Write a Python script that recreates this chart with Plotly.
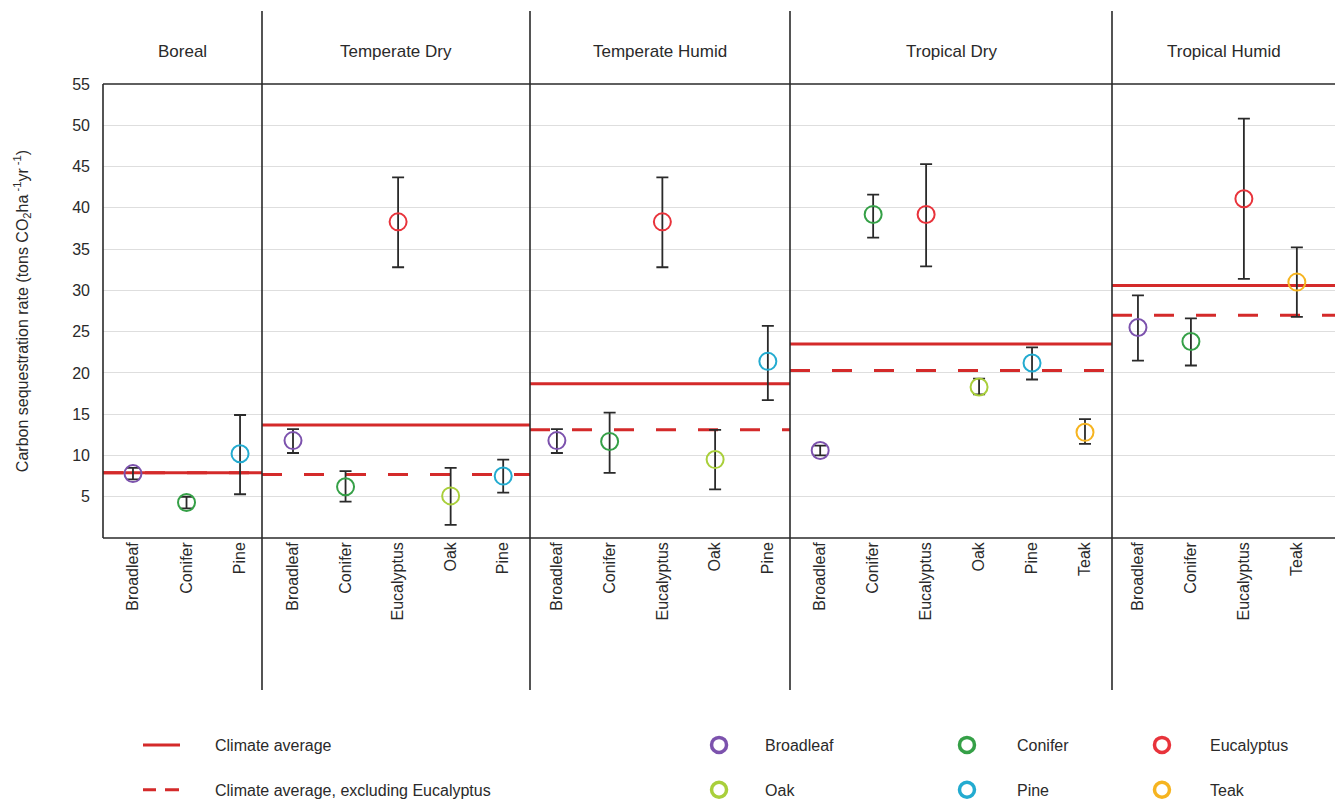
import plotly.graph_objects as go
from plotly.subplots import make_subplots

# ---------------- data ----------------
climates = ["Boreal", "Temperate Dry", "Temperate Humid", "Tropical Dry", "Tropical Humid"]

boreal_species = ["Broadleaf", "Conifer", "Pine"]
boreal_rate = [7.8, 4.3, 10.2]
boreal_low = [7.1, 3.6, 5.3]
boreal_high = [8.5, 5.0, 14.9]

temp_dry_species = ["Broadleaf", "Conifer", "Eucalyptus", "Oak", "Pine"]
temp_dry_rate = [11.8, 6.2, 38.3, 5.1, 7.5]
temp_dry_low = [10.3, 4.4, 32.8, 1.6, 5.5]
temp_dry_high = [13.2, 8.1, 43.7, 8.5, 9.5]

temp_humid_species = ["Broadleaf", "Conifer", "Eucalyptus", "Oak", "Pine"]
temp_humid_rate = [11.8, 11.7, 38.3, 9.5, 21.4]
temp_humid_low = [10.3, 7.9, 32.8, 5.9, 16.7]
temp_humid_high = [13.2, 15.2, 43.7, 13.1, 25.7]

trop_dry_species = ["Broadleaf", "Conifer", "Eucalyptus", "Oak", "Pine", "Teak"]
trop_dry_rate = [10.6, 39.2, 39.2, 18.3, 21.2, 12.8]
trop_dry_low = [10.0, 36.4, 32.9, 17.4, 19.2, 11.4]
trop_dry_high = [11.2, 41.6, 45.3, 19.3, 23.1, 14.4]

trop_humid_species = ["Broadleaf", "Conifer", "Eucalyptus", "Teak"]
trop_humid_rate = [25.5, 23.8, 41.1, 31.0]
trop_humid_low = [21.5, 20.9, 31.4, 26.8]
trop_humid_high = [29.4, 26.6, 50.8, 35.2]

climate_average = [7.9, 13.7, 18.7, 23.5, 30.6]
climate_average_ex_eucalyptus = [7.9, 7.7, 13.1, 20.3, 27.0]

y_ticks = [5, 10, 15, 20, 25, 30, 35, 40, 45, 50, 55]

# ---------------- styles ----------------
species_colors = {
    "Broadleaf": "#7c52ad",
    "Conifer": "#35a047",
    "Eucalyptus": "#e8333b",
    "Oak": "#a9cf3b",
    "Pine": "#23abd0",
    "Teak": "#f6b420",
}
RED = "#d42a2a"
DARK = "#2a2a2a"
FONT = "Liberation Sans, Arial, sans-serif"

panels = [
    (boreal_species, boreal_rate, boreal_low, boreal_high),
    (temp_dry_species, temp_dry_rate, temp_dry_low, temp_dry_high),
    (temp_humid_species, temp_humid_rate, temp_humid_low, temp_humid_high),
    (trop_dry_species, trop_dry_rate, trop_dry_low, trop_dry_high),
    (trop_humid_species, trop_humid_rate, trop_humid_low, trop_humid_high),
]
panel_widths = [159, 268, 260, 322, 223]
x_ranges = [[-0.56, 2.41], [-0.59, 4.51], [-0.51, 4.42], [-0.57, 5.51], [-0.49, 3.72]]

fig = make_subplots(rows=1, cols=5, shared_yaxes=True, horizontal_spacing=0,
                    column_widths=panel_widths)

for i, (sp, rate, low, high) in enumerate(panels):
    col = i + 1
    rng = x_ranges[i]
    # climate averages spanning the whole panel
    fig.add_trace(go.Scatter(
        x=rng, y=[climate_average_ex_eucalyptus[i]] * 2, mode="lines", showlegend=False,
        line=dict(color=RED, width=3, dash="20px,22px"), hoverinfo="skip",
    ), row=1, col=col)
    fig.add_trace(go.Scatter(
        x=rng, y=[climate_average[i]] * 2, mode="lines", showlegend=False,
        line=dict(color=RED, width=3), hoverinfo="skip",
    ), row=1, col=col)
    for j, s in enumerate(sp):
        fig.add_trace(go.Scatter(
            x=[j], y=[rate[j]], mode="markers", showlegend=False,
            marker=dict(symbol="circle-open", size=17, color=species_colors[s],
                        line=dict(width=2, color=species_colors[s])),
            error_y=dict(type="data", symmetric=False,
                         array=[high[j] - rate[j]], arrayminus=[rate[j] - low[j]],
                         color=DARK, thickness=1.8, width=6),
            name=s,
        ), row=1, col=col)
    xa = "x" if i == 0 else f"x{col}"
    fig.update_xaxes(row=1, col=col, range=rng, tickmode="array",
                     tickvals=list(range(len(sp))), ticktext=sp, tickangle=-90,
                     showgrid=False, zeroline=False, showline=False, ticks="",
                     tickfont=dict(size=16, color=DARK, family=FONT))
    fig.add_annotation(xref=f"{xa} domain", yref="paper", x=0.5, y=1.0705,
                       text=climates[i], showarrow=False, yanchor="middle",
                       font=dict(size=17, color=DARK, family=FONT))
    if i > 0:
        fig.add_shape(type="line", xref=f"{xa} domain", yref="paper", x0=0, x1=0,
                      y0=-0.335, y1=1.161, line=dict(color=DARK, width=1.6))

fig.update_yaxes(range=[0, 55], tickmode="array", tickvals=y_ticks,
                 gridcolor="#dedede", gridwidth=1, zeroline=False, showline=False,
                 tickfont=dict(size=16, color=DARK, family=FONT))
fig.update_yaxes(row=1, col=1, ticklabelstandoff=12,
                 title=dict(text="Carbon sequestration rate (tons CO<sub>2</sub>ha<sup> -1</sup>yr<sup> -1</sup>)",
                            font=dict(size=16, color=DARK, family=FONT), standoff=39))

# plot frame
fig.add_shape(type="line", xref="paper", yref="paper", x0=0, x1=1, y0=1, y1=1,
              line=dict(color=DARK, width=1.6))
fig.add_shape(type="line", xref="paper", yref="paper", x0=0, x1=1, y0=0, y1=0,
              line=dict(color=DARK, width=1.6))
fig.add_shape(type="line", xref="paper", yref="paper", x0=0, x1=0, y0=0, y1=1,
              line=dict(color=DARK, width=1.6))

# legend entries
fig.add_trace(go.Scatter(x=[None], y=[None], mode="lines", name="Climate average",
                         line=dict(color=RED, width=3, dash="37px,300px"),
                         legend="legend", legendgroup="a"))
fig.add_trace(go.Scatter(x=[None], y=[None], mode="lines",
                         name="Climate average, excluding Eucalyptus",
                         line=dict(color=RED, width=3, dash="13px,9px,14px,300px"),
                         legend="legend", legendgroup="b"))
legend_cols = [("legend2", ["Broadleaf", "Oak"]), ("legend3", ["Conifer", "Pine"]),
               ("legend4", ["Eucalyptus", "Teak"])]
for lg, names in legend_cols:
    for n in names:
        fig.add_trace(go.Scatter(x=[None], y=[None], mode="markers", name=n,
                                 marker=dict(symbol="circle-open", size=15,
                                             color=species_colors[n],
                                             line=dict(width=3.5, color=species_colors[n])),
                                 legend=lg, legendgroup=lg + n))

legend_common = dict(orientation="v", yanchor="top", y=-0.4185, xanchor="left",
                     traceorder="grouped", tracegroupgap=21, bgcolor="rgba(0,0,0,0)",
                     font=dict(size=16, color=DARK, family=FONT))
fig.update_layout(
    legend=dict(x=(138 - 103) / 1232, itemwidth=67, **legend_common),
    legend2=dict(x=0.4627, itemwidth=82, **legend_common),
    legend3=dict(x=0.6607, itemwidth=90, **legend_common),
    legend4=dict(x=0.8206, itemwidth=86, **legend_common),
)

fig.update_layout(
    width=1335, height=803,
    margin=dict(l=103, r=0, t=84, b=265, autoexpand=False),
    plot_bgcolor="white", paper_bgcolor="white",
    font=dict(family=FONT, color=DARK),
)

fig.write_html("out.html")
